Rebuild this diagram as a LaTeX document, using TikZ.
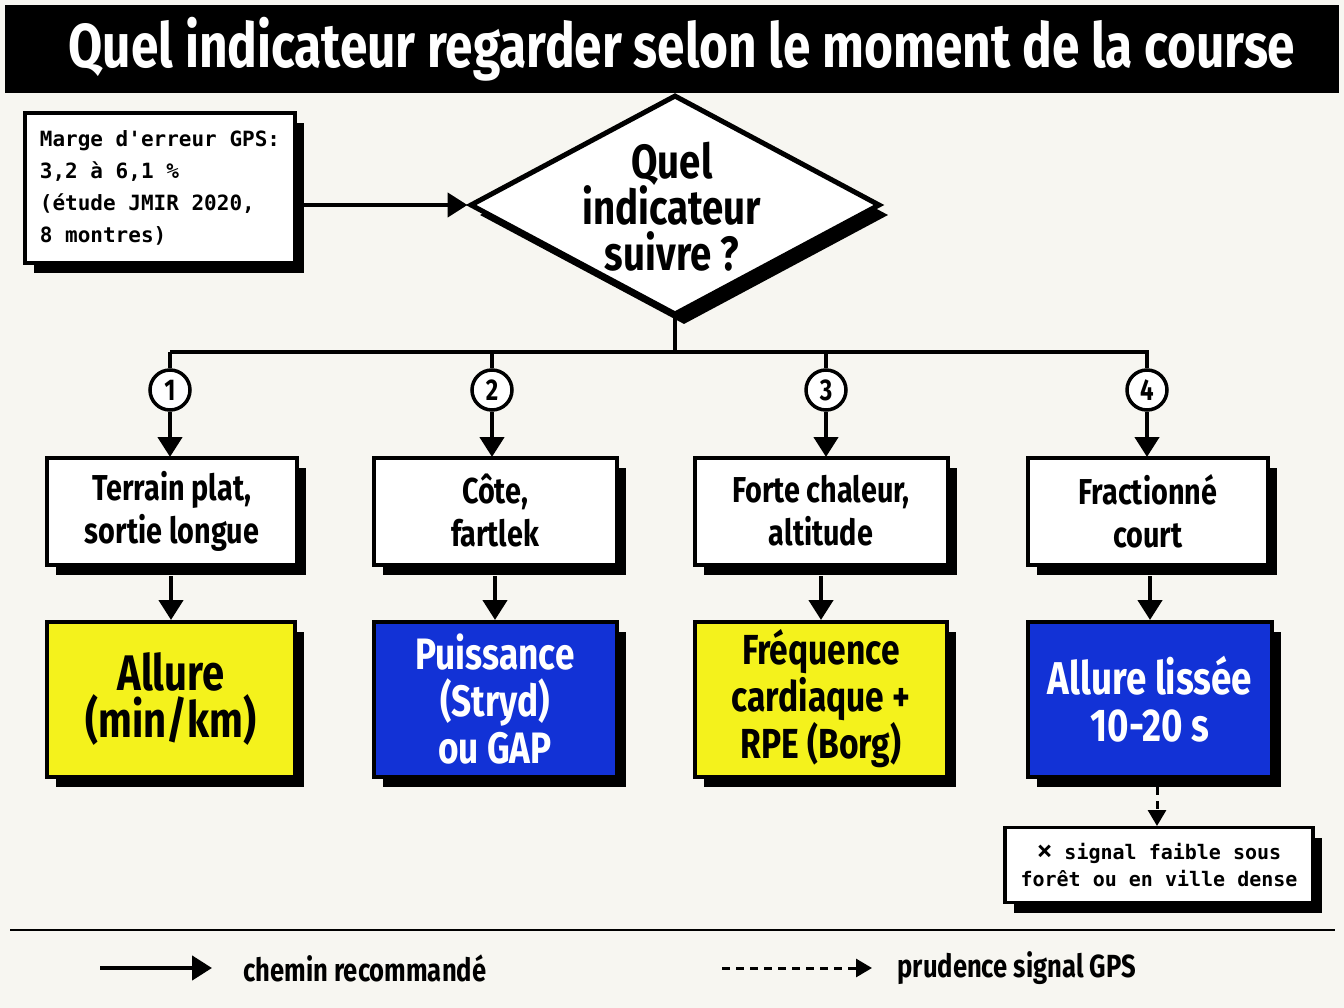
\documentclass[tikz,border=0pt]{standalone}
\usepackage{fontspec}
\setmainfont{Fira Sans}
\newfontfamily\cond[FakeStretch=0.8]{Fira Sans Bold}
\newfontfamily\mon[BoldFont={* Bold}]{DejaVu Sans Mono}
\usetikzlibrary{shapes.geometric,shadows,arrows.meta}
\definecolor{bg}{HTML}{F7F6F1}
\definecolor{yel}{HTML}{F4F21C}
\definecolor{blu}{HTML}{1232D6}
\begin{document}
\begin{tikzpicture}[x=1pt,y=-1pt,
 sh/.style={drop shadow={shadow xshift=9pt,shadow yshift=-10pt,fill=black,opacity=1}},
 box/.style={draw,line width=4pt,fill=white,sh,align=center,inner sep=0pt,font=\cond\fontsize{36}{43}\selectfont},
 res/.style={draw,line width=4pt,sh,align=center,inner sep=0pt},
 num/.style={circle,draw,line width=3.5pt,fill=white,minimum size=40pt,inner sep=0pt,font=\cond\fontsize{30}{30}\selectfont},
 ln/.style={line width=4.5pt},
 arr/.style={ln,-{Triangle[length=20pt,width=24pt]}},
 darr/.style={line width=3pt,dashed,dash pattern=on 8pt off 6pt,-{Triangle[length=16pt,width=18pt]}}]
\fill[bg] (0,0) rectangle (1344,1008);
\useasboundingbox (0,0) rectangle (1344,1008);
\node[fill=black,minimum width=1334pt,minimum height=88pt,inner sep=0pt] (title) at (672,49) {};
\node[text=white,font=\cond\fontsize{62}{70}\selectfont] (tt) at (682,49) {Quel indicateur regarder selon le moment de la course};
\node[draw,line width=4pt,fill=white,sh,minimum width=270pt,minimum height=150pt,align=left,inner sep=0pt,font=\mon\bfseries\fontsize{21}{32}\selectfont] (note) at (160,188) {Marge d'erreur GPS:\\3,2 à 6,1 \%\\(étude JMIR 2020,\\8 montres)};
\node[diamond,draw,line width=5pt,fill=white,sh,minimum width=410pt,minimum height=220pt,inner sep=0pt,aspect=1.86] (dia) at (675,205) {};
\node[align=center,font=\cond\fontsize{48}{46}\selectfont] (dt) at (672,207) {Quel\\indicateur\\suivre ?};
\draw[arr] (note.east|-dia.west) -- (dia.west);
\coordinate (j) at (675,352);
\draw[ln] (dia.south) -- (j);
\draw[ln] (170,352) -- (1149,352);
\foreach \i/\x/\bx/\bw/\rx/\rw/\t/\r/\c/\tc/\fs in {
 1/170/172/250/171/248/{Terrain plat,\\sortie longue}/{Allure\\(min/km)}/yel/black/50,
 2/492/495/243/495/243/{Côte,\\fartlek}/{Puissance\\(Stryd)\\ou GAP}/blu/white/44,
 3/826/821/253/821/252/{Forte chaleur,\\altitude}/{Fréquence\\cardiaque +\\RPE (Borg)}/yel/black/42,
 4/1147/1148/240/1150/244/{Fractionné\\court}/{Allure lissée\\10-20 s}/blu/white/46}{
 \node[num] (n\i) at (\x,390) {\i};
 \draw[ln] (\x,352) -- (n\i.north);
 \node[box,minimum width=\bw pt,minimum height=107pt] (b\i) at (\bx,511) {\t};
 \node[res,fill=\c,text=\tc,minimum width=\rw pt,minimum height=155pt,font=\cond\fontsize{\fs}{47}\selectfont] (r\i) at (\rx,699) {\r};
 \draw[arr] (n\i.south) -- (\x,457);
 \draw[arr] (\rx,576) -- (\rx,620);
}
\node[draw,line width=3.5pt,fill=white,sh,minimum width=308pt,minimum height=75pt,align=center,inner sep=0pt,font=\mon\bfseries\fontsize{20}{27}\selectfont] (warn) at (1159,865) {\fontsize{26}{27}\selectfont×\fontsize{20}{27}\selectfont{} signal faible sous\\forêt ou en ville dense};
\draw[darr] (1157,787) -- (1157,826);
\draw[line width=1.5pt] (10,930) coordinate (l1) -- (1335,930) coordinate (l2);
\coordinate (a1) at (100,968); \coordinate (a2) at (212,968);
\draw[arr] (a1) -- (a2);
\node[anchor=west,font=\cond\fontsize{32}{34}\selectfont] (lg1) at (240,968) {chemin recommandé};
\coordinate (d1) at (722,968); \coordinate (d2) at (872,968);
\draw[darr] (d1) -- (d2);
\node[anchor=west,font=\cond\fontsize{32}{34}\selectfont] (lg2) at (894,968) {prudence signal GPS};
\end{tikzpicture}
\end{document}
